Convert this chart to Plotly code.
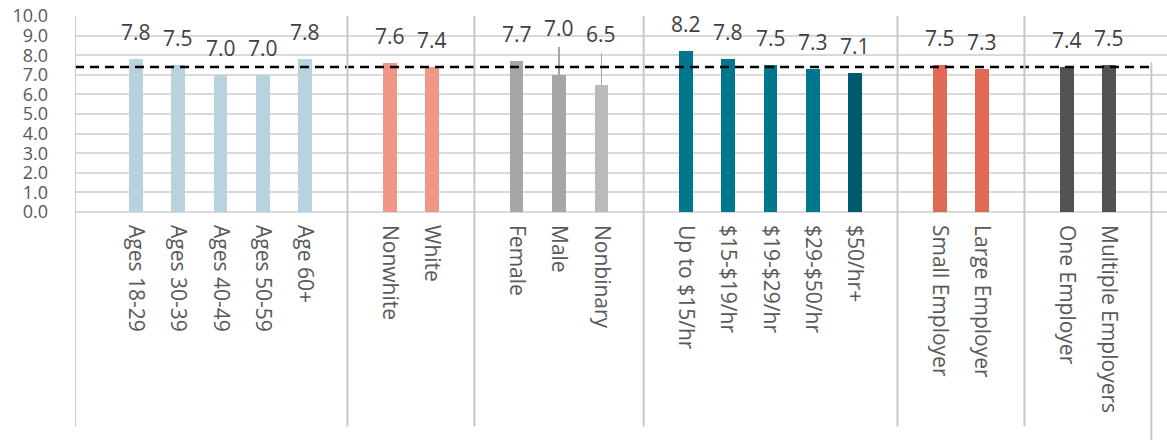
import plotly.graph_objects as go

# Average rating by worker group
groups = [
    ["Ages 18-29", "Ages 30-39", "Ages 40-49", "Ages 50-59", "Age 60+"],
    ["Nonwhite", "White"],
    ["Female", "Male", "Nonbinary"],
    ["Up to $15/hr", "$15-$19/hr", "$19-$29/hr", "$29-$50/hr", "$50/hr+"],
    ["Small Employer", "Large Employer"],
    ["One Employer", "Multiple Employers"],
]
values = [
    [7.8, 7.5, 7.0, 7.0, 7.8],
    [7.6, 7.4],
    [7.7, 7.0, 6.5],
    [8.2, 7.8, 7.5, 7.3, 7.1],
    [7.5, 7.3],
    [7.4, 7.5],
]
error_plus = [
    [0, 0, 0, 0, 0],
    [0, 0],
    [0, 1.4, 1.6],
    [0, 0, 0, 0, 0],
    [0, 0],
    [0, 0],
]
colors = [
    ["#b8d2de"] * 5,
    ["#f09788"] * 2,
    ["#a6a6a6", "#a6a6a6", "#bababa"],
    ["#00778f", "#00778f", "#00778f", "#00778f", "#005a6e"],
    ["#e06a54"] * 2,
    ["#525252"] * 2,
]
overall_average = 7.4

# Lay categories out with one empty slot between groups
xs, labels, ys, errs, cols, seps = [], [], [], [], [], []
pos = 0
for g, vals, ers, cs in zip(groups, values, error_plus, colors):
    for name, v, e, c in zip(g, vals, ers, cs):
        xs.append(pos)
        labels.append(name)
        ys.append(v)
        errs.append(e)
        cols.append(c)
        pos += 1
    seps.append(pos)
    pos += 1

x_left, x_right = -1.44, 24.37

fig = go.Figure()
fig.add_trace(go.Bar(
    x=xs, y=ys, width=0.32, marker=dict(color=cols, line=dict(width=0)),
    error_y=dict(type="data", symmetric=False, array=errs,
                 arrayminus=[0] * len(errs), color="#a6a6a6",
                 thickness=1.5, width=0),
    hoverinfo="x+y", showlegend=False,
))

# Value labels above each bar (or above its error bar)
for x, y, e in zip(xs, ys, errs):
    fig.add_annotation(
        x=x, y=y + e, text=f"{y:.1f}", showarrow=False,
        yanchor="bottom", yshift=11 if e == 0 else 3,
        font=dict(family="Open Sans", size=21, color="#404040"),
    )

# Overall average reference line
fig.add_shape(type="line", xref="x", yref="y", x0=x_left, x1=seps[-1],
              y0=overall_average, y1=overall_average,
              line=dict(color="black", width=2.5, dash="9px,6px"))

# Group dividers running through the category label area
fig.add_shape(type="line", xref="x", yref="paper", x0=x_left, x1=x_left,
              y0=-1.093, y1=1, line=dict(color="#c8c8c8", width=2))
for s in seps[:-1]:
    fig.add_shape(type="line", xref="x", yref="paper", x0=s, x1=s,
                  y0=-1.093, y1=1, line=dict(color="#c8c8c8", width=2))
fig.add_shape(type="line", xref="x", yref="paper", x0=seps[-1], x1=seps[-1],
              y0=-1.2, y1=0.764, line=dict(color="#c8c8c8", width=2))

fig.update_layout(
    width=1167, height=440,
    margin=dict(l=75, r=0, t=16, b=228),
    plot_bgcolor="white", paper_bgcolor="white",
    bargap=0,
    font=dict(family="Open Sans", color="#595959"),
    xaxis=dict(range=[x_left, x_right], tickmode="array", tickvals=xs,
               ticktext=labels, tickangle=90, showgrid=False, zeroline=False,
               showline=False, ticks="", ticklabelstandoff=12,
               tickfont=dict(size=21, color="#595959")),
    yaxis=dict(range=[0, 10], tickmode="linear", tick0=0, dtick=1,
               tickformat=".1f", showgrid=True, gridcolor="#d9d9d9",
               gridwidth=1.5, zeroline=True, zerolinecolor="#d9d9d9",
               zerolinewidth=2, showline=False, ticks="",
               ticklabelstandoff=26,
               tickfont=dict(size=18, color="#595959")),
)

fig.write_html("out.html")
